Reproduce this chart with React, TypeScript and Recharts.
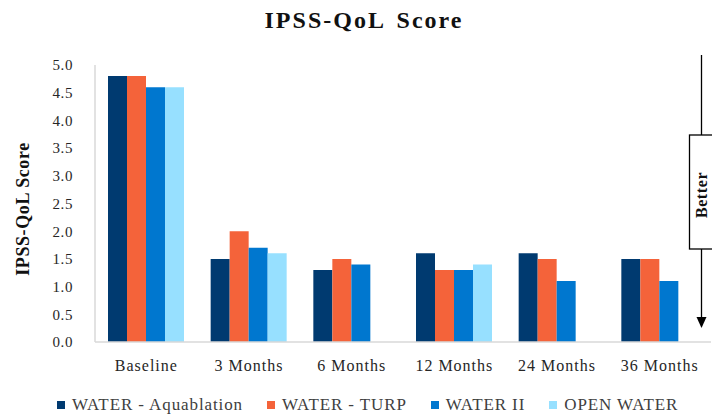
import React from "react";
import { BarChart, Bar, XAxis, YAxis } from "recharts";

const categories = ["Baseline", "3 Months", "6 Months", "12 Months", "24 Months", "36 Months"];
const aquablation = [4.8, 1.5, 1.3, 1.6, 1.6, 1.5];
const turp = [4.8, 2.0, 1.5, 1.3, 1.5, 1.5];
const waterII = [4.6, 1.7, 1.4, 1.3, 1.1, 1.1];
const openWater = [4.6, 1.6, null, 1.4, null, null];
const yTicks = [0, 0.5, 1, 1.5, 2, 2.5, 3, 3.5, 4, 4.5, 5];

const series = [
  { key: "aquablation", name: "WATER - Aquablation", color: "#003A70" },
  { key: "turp", name: "WATER - TURP", color: "#F4633A" },
  { key: "waterII", name: "WATER II", color: "#0077CF" },
  { key: "openWater", name: "OPEN WATER", color: "#97E0FF" },
];

const data = categories.map((c, i) => ({
  category: c,
  aquablation: aquablation[i],
  turp: turp[i],
  waterII: waterII[i],
  openWater: openWater[i],
}));

const FONT = "'Liberation Serif', 'Times New Roman', serif";

export default function App() {
  return (
    <div style={{ position: "absolute", left: 0, top: 0, width: 712, height: 418, background: "#fff", fontFamily: FONT }}>
      <BarChart
        width={712}
        height={418}
        data={data}
        margin={{ top: 65, right: 1, bottom: 46, left: 0 }}
        barSize={19}
        barGap={0}
      >
        <XAxis
          dataKey="category"
          height={30}
          axisLine={{ stroke: "#D9D9D9", strokeWidth: 1.5 }}
          tickLine={false}
          tickSize={0}
          tickMargin={18}
          interval={0}
          tick={{ fontSize: 16, fill: "#262626", fontFamily: FONT, letterSpacing: 1 }}
        />
        <YAxis
          domain={[0, 5]}
          ticks={yTicks}
          tickFormatter={(v: number) => v.toFixed(1)}
          width={95}
          axisLine={{ stroke: "#D9D9D9", strokeWidth: 1.5 }}
          tickLine={false}
          tickSize={0}
          tickMargin={22}
          tick={{ fontSize: 15, fill: "#262626", fontFamily: FONT, letterSpacing: 0.6 }}
        />
        {series.map((s) => (
          <Bar key={s.key} dataKey={s.key} name={s.name} fill={s.color} isAnimationActive={false} />
        ))}
      </BarChart>
      <svg
        width={712}
        height={418}
        style={{ position: "absolute", left: 0, top: 0, pointerEvents: "none" }}
      >
        <text
          x={364}
          y={28}
          textAnchor="middle"
          fontFamily={FONT}
          fontWeight="bold"
          fontSize={24}
          letterSpacing={2}
          wordSpacing={4}
          fill="#111"
        >
          IPSS-QoL Score
        </text>
        <text
          x={0}
          y={0}
          transform="translate(23,209) rotate(-90)"
          textAnchor="middle"
          dy="0.35em"
          fontFamily={FONT}
          fontWeight="bold"
          fontSize={18}
          letterSpacing={0.6}
          fill="#111"
        >
          IPSS-QoL Score
        </text>
        <line x1={701.5} y1={55} x2={701.5} y2={135} stroke="#000" strokeWidth={1.3} />
        <line x1={701.5} y1={249} x2={701.5} y2={318} stroke="#000" strokeWidth={1.3} />
        <polygon points="696.5,317 706.5,317 701.5,328" fill="#000" />
        <rect x={689.5} y={135} width={24} height={114} fill="#fff" stroke="#000" strokeWidth={1.3} />
        <text
          x={0}
          y={0}
          transform="translate(701,195) rotate(-90)"
          textAnchor="middle"
          dy="0.35em"
          fontFamily={FONT}
          fontWeight="bold"
          fontSize={16}
          letterSpacing={0.6}
          fill="#111"
        >
          Better
        </text>
      </svg>
      <div
        style={{
          position: "absolute",
          left: 57,
          top: 396,
          display: "flex",
          alignItems: "center",
          fontFamily: FONT,
          fontSize: 17,
          letterSpacing: 0.9,
          color: "#404040",
          whiteSpace: "nowrap",
          lineHeight: "17px",
        }}
      >
        {series.map((s, i) => (
          <div key={s.key} style={{ display: "flex", alignItems: "center", marginRight: i < series.length - 1 ? 24 : 0 }}>
            <span style={{ display: "inline-block", width: 8, height: 8, background: s.color, marginRight: 7 }} />
            <span>{s.name}</span>
          </div>
        ))}
      </div>
    </div>
  );
}
